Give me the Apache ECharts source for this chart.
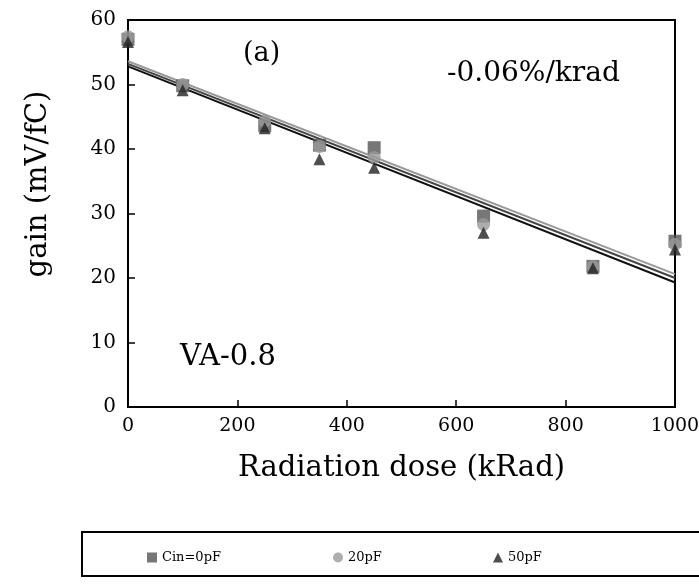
<!DOCTYPE html>
<html>
<head>
<meta charset="utf-8">
<script src="https://cdn.jsdelivr.net/npm/echarts@6/dist/echarts.min.js"></script>
<style>html,body{margin:0;padding:0;background:#fff;}#c{width:699px;height:584px;}</style>
</head>
<body>
<div id="c"></div>
<script>
var doses = [0, 100, 250, 350, 450, 650, 850, 1000];
var gain0pF  = [57.0, 49.8, 43.6, 40.6, 40.2, 29.6, 21.8, 25.7];
var gain20pF = [57.4, 50.0, 44.3, 40.4, 38.7, 28.3, 21.8, 25.2];
var gain50pF = [56.6, 49.1, 43.2, 38.4, 37.1, 27.0, 21.5, 24.4];
var fitDoses = [0, 1000];
var fit0pF  = [53.2, 20.0];
var fit20pF = [53.6, 20.6];
var fit50pF = [52.8, 19.3];
var xTicks = [0, 200, 400, 600, 800, 1000];
var yTicks = [0, 10, 20, 30, 40, 50, 60];
var names = ['Cin=0pF', '20pF', '50pF'];

function pairs(xs, ys){ return xs.map(function(x,i){ return [x, ys[i]]; }); }
var serif = 'DejaVu Serif';
var chart = echarts.init(document.getElementById('c'));
chart.setOption({
  animation: false,
  backgroundColor: '#fff',
  grid: {left: 128, right: 24, top: 20, bottom: 177, show: true, borderColor: '#000', borderWidth: 2,
         containLabel: false, outerBoundsMode: 'none'},
  xAxis: {
    type: 'value', min: xTicks[0], max: xTicks[xTicks.length-1], interval: 200,
    name: 'Radiation dose (kRad)', nameLocation: 'middle', nameGap: 47,
    nameTextStyle: {fontFamily: serif, fontSize: 29, color: '#000'},
    axisLine: {lineStyle: {color: '#000', width: 2}},
    axisTick: {inside: true, length: 7, lineStyle: {color: '#000', width: 1.5}},
    axisLabel: {fontFamily: serif, fontSize: 19, color: '#000', margin: 10, hideOverlap: false,
      formatter: function(v){ return String(v); }},
    splitLine: {show: false}
  },
  yAxis: {
    type: 'value', min: yTicks[0], max: yTicks[yTicks.length-1], interval: 10,
    axisLine: {lineStyle: {color: '#000', width: 2}},
    axisTick: {inside: true, length: 7, lineStyle: {color: '#000', width: 1.5}},
    axisLabel: {fontFamily: serif, fontSize: 20, color: '#000', margin: 12},
    splitLine: {show: false}
  },
  legend: [
    {data: [{name: names[0], icon: 'rect'}], left: 142, top: 546, itemWidth: 10, itemHeight: 10, itemGap: 6,
     textStyle: {fontFamily: serif, fontSize: 13, color: '#000'}},
    {data: [{name: names[1], icon: 'circle'}], left: 328, top: 546, itemWidth: 10, itemHeight: 10,
     textStyle: {fontFamily: serif, fontSize: 13, color: '#000'}},
    {data: [{name: names[2], icon: 'triangle'}], left: 488, top: 546, itemWidth: 10, itemHeight: 10,
     textStyle: {fontFamily: serif, fontSize: 13, color: '#000'}}
  ],
  graphic: [
    {type: 'rect', shape: {x: 82, y: 532, width: 640, height: 44}, style: {fill: 'none', stroke: '#000', lineWidth: 2}},
    {type: 'text', x: 38, y: 184, rotation: Math.PI / 2,
     style: {text: 'gain (mV/fC)', font: '29px "DejaVu Serif"', fill: '#000', align: 'center', verticalAlign: 'middle'}},
    {type: 'text', left: 243, top: 40, style: {text: '(a)', font: '27px "DejaVu Serif"', fill: '#000'}},
    {type: 'text', left: 447, top: 60, style: {text: '-0.06%/krad', font: '28px "DejaVu Serif"', fill: '#000'}},
    {type: 'text', left: 180, top: 343, style: {text: 'VA-0.8', font: '29px "DejaVu Serif"', fill: '#000'}}
  ],
  series: [
    {type: 'line', data: pairs(fitDoses, fit0pF), symbol: 'none', lineStyle: {color: '#444', width: 2}, z: 1, silent: true},
    {type: 'line', data: pairs(fitDoses, fit20pF), symbol: 'none', lineStyle: {color: '#999', width: 2}, z: 1, silent: true},
    {type: 'line', data: pairs(fitDoses, fit50pF), symbol: 'none', lineStyle: {color: '#111', width: 2}, z: 1, silent: true},
    {name: names[0], type: 'scatter', data: pairs(doses, gain0pF), symbol: 'rect', symbolSize: 13, itemStyle: {color: '#555'}, z: 3},
    {name: names[1], type: 'scatter', data: pairs(doses, gain20pF), symbol: 'circle', symbolSize: 13, itemStyle: {color: '#999'}, z: 4},
    {name: names[2], type: 'scatter', data: pairs(doses, gain50pF), symbol: 'triangle', symbolSize: 12, itemStyle: {color: '#222'}, z: 5}
  ]
});
</script>
</body>
</html>
